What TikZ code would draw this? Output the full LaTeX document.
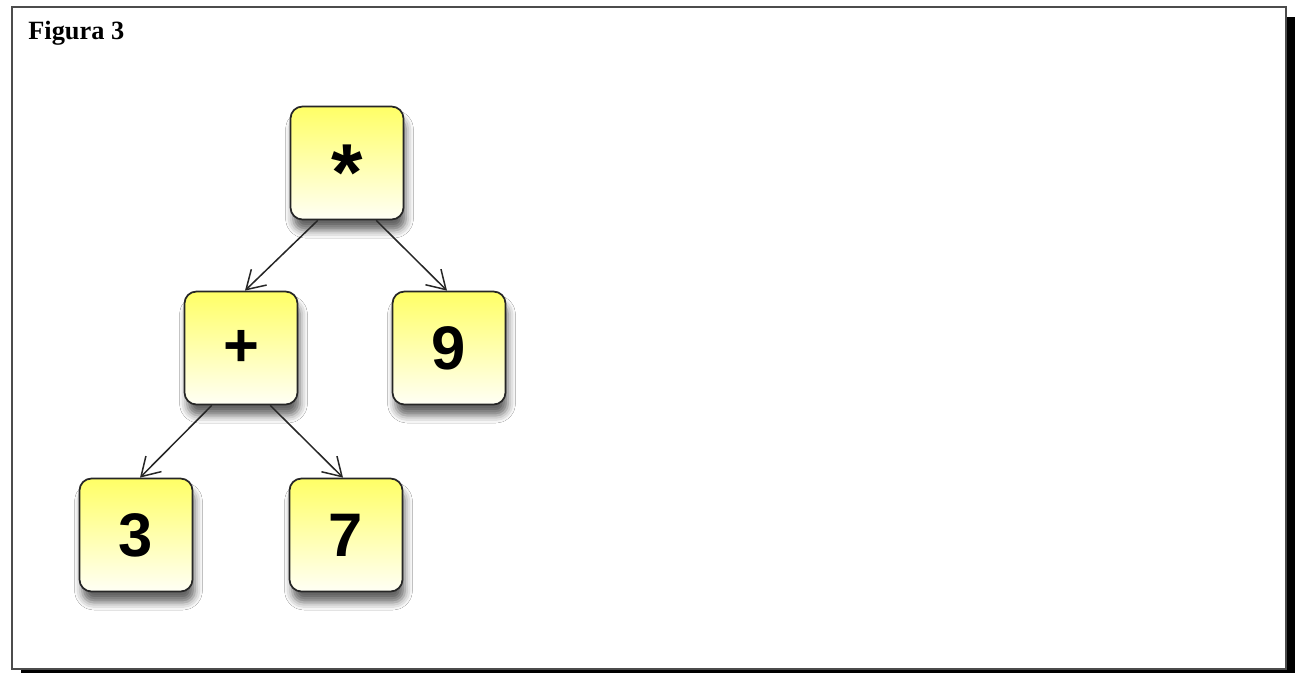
\documentclass[tikz,border=0pt]{standalone}
\usepackage{fontspec}
\setmainfont{Liberation Serif}
\newfontfamily\boxfont{Liberation Sans}
\usepackage{tikz}
\usetikzlibrary{positioning,arrows.meta,shadows.blur,calc}

\begin{document}
\begin{tikzpicture}[
  x=0.2mm, y=-0.2mm,
  tnode/.style={draw=black!85, line width=0.35mm, rounded corners=2.4mm,
                minimum width=22.6mm, minimum height=22.6mm, inner sep=0pt,
                top color=yellow!60, bottom color=yellow!4,
                font=\boxfont\bfseries\fontsize{35}{36}\selectfont,
                blur shadow={shadow xshift=0.5mm, shadow yshift=-2.2mm,
                             shadow blur radius=1.5mm, shadow opacity=60}},
  arr/.style={-{Straight Barb[length=3.6mm, width=4.4mm, line width=0.3mm]},
              line width=0.3mm, draw=black!85},
  frm/.style={draw=black!70, line width=0.25mm, fill=white}
]
\useasboundingbox (0,0) rectangle (1295,673);

% frame with its shadow
\fill[black] (21,17) rectangle (1295,673);
\path[frm] (12,7) rectangle (1286,669);
\node[anchor=base west, inner sep=0pt, font=\bfseries\fontsize{15}{17}\selectfont]
  (title) at (28,39) {Figura 3};

% the tree
\node[tnode] (mul) at (347,163)
  {\smash{\raisebox{-21.5pt}{\fontsize{46}{46}\selectfont *}}};
\node[tnode] (plus) at (241,348) {+};
\node[tnode] (nine) at (449,348) {9};
\node[tnode] (three) at (136,535) {3};
\node[tnode] (seven) at (346,535) {7};

\draw[arr] (mul.-117) -- ($(plus.north)+(4,0)$);
\draw[arr] (mul.-63) -- ($(nine.north)+(-2,0)$);
\draw[arr] (plus.-117) -- ($(three.north)+(4,0)$);
\draw[arr] (plus.-63) -- ($(seven.north)+(-3,0)$);
\end{tikzpicture}
\end{document}
